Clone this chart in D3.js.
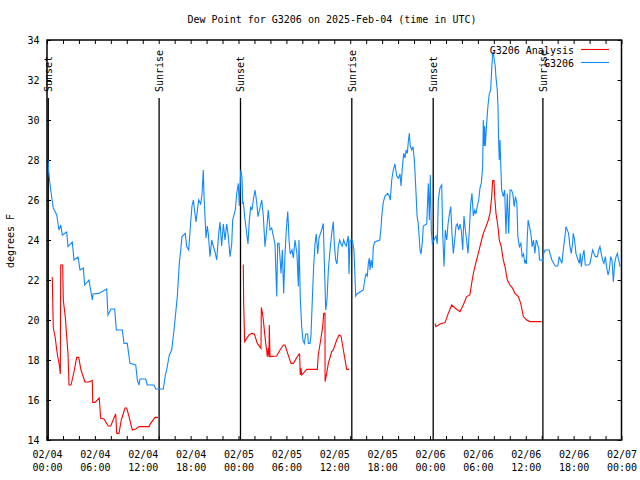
<!DOCTYPE html>
<html>
<head>
<meta charset="utf-8">
<script src="https://cdn.jsdelivr.net/npm/d3@7"></script>
<style>
  html, body { margin: 0; padding: 0; background: #fff; }
  svg { display: block; font-family: "DejaVu Sans Mono", "Liberation Mono", monospace; }
</style>
</head>
<body>
<svg id="chart" width="640" height="480"></svg>
<script>
// ---------------- data ----------------
const titleText = "Dew Point for G3206 on 2025-Feb-04 (time in UTC)";
const yLabel = "degrees F";
const startUTC = Date.UTC(2025, 1, 4, 0, 0);
const spanHours = 72;
const yTicks = [14, 16, 18, 20, 22, 24, 26, 28, 30, 32, 34];
const seriesNames = ["G3206 Analysis", "G3206"];
const seriesColors = ["#ff0000", "#1188ff"];

// G3206 observations: hours since 02/04 00:00 UTC and dew point (F)
const obsHours = [0.13,0.19,0.46,0.79,1.22,1.50,1.72,1.92,2.47,2.63,3.17,3.38,3.89,4.14,4.55,4.72,5.26,5.68,5.77,6.52,7.48,7.64,8.02,8.48,8.69,9.44,9.65,10.06,10.40,11.12,11.32,11.53,11.65,12.37,12.57,13.41,13.62,14.58,14.83,15.00,15.33,15.63,15.92,16.33,16.58,16.76,16.92,17.33,17.51,17.76,18.01,18.17,18.34,18.67,19.01,19.26,19.43,19.59,19.68,19.93,20.09,20.22,20.43,20.64,20.84,21.06,21.27,21.52,21.68,21.89,22.10,22.31,22.52,22.72,22.94,23.15,23.27,23.60,23.77,23.98,24.10,24.28,24.44,24.53,24.60,24.82,25.03,25.19,25.36,25.53,25.69,25.86,26.07,26.28,26.44,26.69,26.91,27.11,27.32,27.53,27.73,27.95,28.16,28.36,28.57,28.79,28.91,29.08,29.33,29.50,29.66,29.83,29.99,30.17,30.24,30.33,30.49,30.71,30.87,31.08,31.33,31.50,31.58,31.75,31.92,32.08,32.25,32.42,32.67,32.75,32.96,33.08,33.25,33.42,33.59,33.75,33.93,34.09,34.25,34.42,34.63,34.75,34.93,35.09,35.26,35.47,35.68,35.88,36.01,36.18,36.34,36.51,36.68,36.85,37.01,37.18,37.35,37.51,37.69,37.76,37.85,37.98,38.26,38.47,38.69,38.85,39.23,39.64,39.82,39.98,40.14,40.27,40.39,40.48,40.61,40.77,40.90,41.07,41.70,41.86,41.95,42.15,42.36,42.70,42.90,43.03,43.20,43.40,43.61,43.83,44.03,44.24,44.37,44.53,44.70,44.87,45.00,45.16,45.28,45.41,45.53,45.71,45.87,46.04,46.21,46.38,46.50,46.62,46.75,46.87,47.04,47.16,47.59,47.79,47.92,48.04,48.16,48.29,48.50,48.75,48.91,49.04,49.25,49.47,49.59,49.76,49.92,50.10,50.26,50.43,50.60,50.76,50.92,51.10,51.26,51.42,51.60,51.76,51.92,52.10,52.26,52.43,52.59,52.76,52.93,53.10,53.26,53.43,53.60,53.76,53.93,54.10,54.26,54.43,54.60,54.68,54.77,54.85,54.93,55.10,55.26,55.43,55.60,55.73,55.85,55.93,56.05,56.18,56.26,56.43,56.52,56.60,56.68,56.77,56.85,56.98,57.18,57.36,57.52,57.69,57.86,58.03,58.20,58.37,58.55,58.71,58.89,59.01,59.21,59.39,59.55,59.72,59.89,59.96,60.09,60.18,60.30,60.47,60.64,60.80,60.97,61.14,61.31,61.47,61.65,61.72,62.02,62.09,62.22,62.43,62.93,63.09,63.27,63.52,63.69,64.02,64.19,64.35,64.53,64.70,64.86,65.04,65.20,65.37,65.54,65.70,65.87,65.95,66.12,66.29,66.55,66.71,66.84,66.96,67.13,67.30,67.46,67.88,68.05,68.22,68.38,68.55,68.72,68.97,69.14,69.30,69.46,69.63,69.80,69.97,70.13,70.31,70.47,70.64,70.81,70.98,71.14,71.32,71.48,71.65,71.82];
const obsValues = [28.0,27.5,26.5,25.6,25.25,24.5,24.75,24.25,24.4,23.67,23.9,23.0,23.15,22.5,22.6,21.75,22.0,21.0,21.3,21.33,21.55,20.25,20.55,20.55,19.5,19.5,18.83,18.83,17.83,17.75,17.0,16.75,17.05,17.05,16.75,16.75,16.55,16.55,17.25,17.5,18.25,18.5,19.5,21.17,22.83,23.5,24.17,24.33,23.67,23.5,24.9,25.7,26.0,24.9,26.0,25.8,26.3,27.5,26.17,24.1,24.7,24.3,23.17,24.0,23.7,23.4,23.0,24.33,24.9,23.7,24.8,24.0,24.8,24.2,23.17,23.8,25.0,25.5,26.3,26.83,25.7,27.5,27.1,25.8,25.9,25.0,24.33,23.8,25.0,25.67,25.5,26.0,26.5,25.9,25.17,25.6,26.0,25.2,23.67,24.5,25.5,24.5,24.6,24.2,23.8,21.17,23.83,23.83,22.33,23.5,21.33,23.3,24.5,25.42,24.9,24.0,23.3,23.5,23.1,24.0,23.3,21.67,24.0,21.0,19.67,19.0,18.83,19.3,19.3,18.83,18.83,19.2,21.0,22.7,23.8,24.3,23.3,24.1,24.3,24.5,24.83,23.0,20.5,21.0,22.5,23.5,24.3,24.92,23.8,23.0,22.8,23.7,24.0,23.8,23.7,24.0,23.8,23.7,24.1,24.2,22.3,24.0,24.0,23.5,21.2,21.3,21.4,21.5,22.0,22.3,22.2,22.83,23.1,22.5,23.0,22.6,23.67,23.9,24.0,24.6,25.17,25.9,26.2,26.33,26.2,26.0,27.0,27.5,27.8,27.2,27.08,27.3,26.7,27.6,28.33,28.1,28.5,28.33,28.9,29.33,28.7,28.5,28.67,28.0,26.67,25.2,24.9,24.3,23.5,23.3,23.9,24.7,24.8,26.83,25.0,27.25,24.5,23.83,24.0,24.2,23.8,26.0,26.6,26.75,24.33,22.67,24.5,24.0,24.8,25.3,25.67,24.3,23.33,24.0,24.7,24.8,24.5,24.8,24.5,23.5,25.2,24.5,24.0,23.33,24.5,25.8,26.33,25.2,25.5,25.3,25.7,26.0,26.58,26.83,27.67,30.0,28.7,29.7,28.7,29.83,30.7,31.3,31.5,32.5,33.33,33.42,33.0,32.7,32.17,31.5,30.67,29.0,28.0,29.0,28.0,26.5,26.17,26.5,24.3,26.33,24.33,26.5,26.5,26.33,25.67,26.17,25.83,24.17,23.67,23.83,23.17,23.3,22.83,23.0,22.8,24.0,25.0,24.67,24.33,23.67,24.0,23.33,24.0,23.83,23.5,23.0,23.0,22.92,23.3,23.5,23.5,23.25,23.0,22.83,22.7,22.7,23.17,23.0,22.83,23.5,24.0,24.67,24.5,24.33,23.67,23.33,23.83,24.33,24.0,23.33,23.0,22.83,23.33,22.67,23.17,23.5,22.75,22.75,22.83,23.17,23.5,23.33,23.17,23.17,23.5,23.67,23.33,23.0,22.83,23.17,22.67,22.25,22.5,23.17,23.0,21.92,22.83,23.17,23.33,23.0,22.67];

// G3206 Analysis: hours and values (null = gap)
const anaHours = [0.66,0.79,1.00,1.29,1.54,1.67,1.72,1.97,2.04,2.29,2.47,2.63,2.76,3.01,3.38,3.72,3.97,4.26,4.76,5.18,5.68,5.73,6.02,6.55,6.73,7.14,7.68,7.98,8.61,8.74,9.02,9.31,9.78,9.99,10.28,10.69,11.12,11.53,12.78,12.99,13.54,13.91,
  18.0,
  24.60,24.65,24.77,25.03,25.32,25.65,25.98,26.36,26.82,26.86,26.98,27.11,27.41,27.53,27.61,27.73,27.82,27.86,27.95,28.79,29.20,29.62,29.83,30.16,30.58,30.87,31.58,31.66,31.74,31.83,31.92,32.55,33.88,34.00,34.30,34.55,34.68,34.84,34.85,35.05,35.26,35.68,35.88,36.31,36.60,36.85,37.14,37.56,37.85,
  42.0,
  48.63,48.75,49.25,49.88,50.29,50.72,51.13,51.76,52.17,52.59,53.00,53.22,53.42,53.63,53.84,54.05,54.26,54.47,54.68,55.02,55.31,55.52,55.73,55.85,56.02,56.11,56.27,56.52,56.68,56.93,57.18,57.40,57.69,58.02,58.36,58.65,59.07,59.37,59.70,60.12,60.53,60.91,62.00];
const anaValues = [22.15,19.6,19.2,18.3,17.75,17.3,22.75,22.75,21.0,20.17,19.17,18.33,16.75,16.75,17.4,18.13,18.13,17.5,16.9,16.9,16.97,15.88,15.88,16.1,15.08,15.05,14.7,14.7,15.3,14.33,14.33,15.0,15.6,15.6,15.17,14.5,14.55,14.67,14.67,14.83,15.13,15.13,
  null,
  22.78,20.83,18.92,19.08,19.25,19.33,19.3,18.83,18.58,20.63,20.4,20.0,18.83,18.5,18.17,18.6,18.17,19.75,18.17,18.2,18.5,18.75,18.75,18.33,17.83,17.83,18.3,18.3,17.25,17.6,17.25,17.53,17.53,18.25,19.0,19.67,20.33,20.33,16.92,17.33,17.83,18.42,18.5,19.0,19.25,19.2,18.5,17.53,17.53,
  null,
  19.83,19.67,19.8,19.87,20.33,20.75,20.6,20.42,20.75,21.17,21.25,21.83,22.3,22.67,23.0,23.33,23.67,24.0,24.33,24.67,25.0,25.33,26.17,26.97,26.97,26.17,25.33,24.67,24.0,23.67,23.0,22.67,22.0,21.75,21.58,21.33,21.17,20.83,20.17,20.0,19.92,19.92,19.92];

// Sun events (hours since start)
const sunHours = [0.16, 14.05, 24.25, 38.2, 48.4, 62.15];
const sunLabels = ["Sunset", "Sunrise", "Sunset", "Sunrise", "Sunset", "Sunrise"];

// ---------------- chart ----------------
const toDate = h => new Date(startUTC + h * 3600000);
const margin = {left: 47, right: 18.5, top: 40, bottom: 40};
const W = 640 - margin.left - margin.right;
const H = 480 - margin.top - margin.bottom;

const svg = d3.select("#chart");
svg.append("rect").attr("width", 640).attr("height", 480).attr("fill", "#fff");

const g = svg.append("g").attr("transform", `translate(${margin.left},${margin.top})`);

const x = d3.scaleUtc().domain([toDate(0), toDate(spanHours)]).range([0, W]);
const y = d3.scaleLinear().domain([14, 34]).range([H, 0]);

const fs = 10;

// axes
const fmtD = d3.utcFormat("%m/%d"), fmtT = d3.utcFormat("%H:%M");
const xb = g.append("g").attr("transform", `translate(0,${H})`)
  .call(d3.axisBottom(x).ticks(d3.utcHour.every(2)).tickSizeInner(-4).tickSizeOuter(0).tickFormat(() => ""));
xb.selectAll(".tick text").each(function(d) {
  const t = d3.select(this).text(null).attr("dy", null).attr("y", 0);
  if (d.getUTCHours() % 6 !== 0) return;
  t.append("tspan").attr("x", 0).attr("y", 18).text(fmtD(d));
  t.append("tspan").attr("x", 0).attr("y", 31).text(fmtT(d));
});
const xt = g.append("g")
  .call(d3.axisTop(x).ticks(d3.utcHour.every(2)).tickSizeInner(-4).tickSizeOuter(0).tickFormat(() => ""));
const yl = g.append("g")
  .call(d3.axisLeft(y).tickValues(yTicks).tickSizeInner(-4).tickSizeOuter(0).tickPadding(7.5).tickFormat(d3.format("d")));
const yr = g.append("g").attr("transform", `translate(${W},0)`)
  .call(d3.axisRight(y).tickValues(yTicks).tickSizeInner(-4).tickSizeOuter(0).tickFormat(() => ""));
[xb, xt, yl, yr].forEach(a => {
  a.select(".domain").remove();
  a.selectAll("line").attr("stroke", "#000").attr("stroke-width", 1);
  a.selectAll("text").attr("font-size", fs).attr("font-family", "DejaVu Sans Mono, monospace").attr("fill", "#000");
});

// sunrise / sunset lines
const sun = g.append("g");
sunHours.forEach((h, i) => {
  const sx = x(toDate(h));
  sun.append("line").attr("x1", sx).attr("x2", sx).attr("y1", 58).attr("y2", H)
    .attr("stroke", "#000").attr("stroke-width", 1.3);
  sun.append("text").attr("transform", `translate(${sx + 4},52) rotate(-90)`)
    .attr("font-size", fs).attr("text-anchor", "start").attr("fill", "#000").text(sunLabels[i]);
});

// data lines
const obs = obsHours.map((h, i) => ({t: toDate(h), v: obsValues[i]}));
const ana = anaHours.map((h, i) => ({t: toDate(h), v: anaValues[i]}));
const line = d3.line().defined(d => d.v != null).x(d => x(d.t)).y(d => y(d.v));

g.append("path").datum(ana).attr("d", line).attr("fill", "none")
  .attr("stroke", seriesColors[0]).attr("stroke-width", 1.1).attr("stroke-linejoin", "miter");
g.append("path").datum(obs).attr("d", line).attr("fill", "none")
  .attr("stroke", seriesColors[1]).attr("stroke-width", 1.1).attr("stroke-linejoin", "miter");

// border
g.append("rect").attr("width", W).attr("height", H).attr("fill", "none")
  .attr("stroke", "#000").attr("stroke-width", 1.5);

// legend
const leg = svg.append("g");
seriesNames.forEach((n, i) => {
  const ly = 49.5 + i * 13;
  leg.append("text").attr("x", 574).attr("y", ly + 4.5).attr("text-anchor", "end")
    .attr("font-size", fs).attr("fill", "#000").text(n);
  leg.append("line").attr("x1", 581).attr("x2", 609).attr("y1", ly).attr("y2", ly)
    .attr("stroke", seriesColors[i]).attr("stroke-width", 1.1);
});

// title and y label
svg.append("text").attr("x", 332).attr("y", 23).attr("text-anchor", "middle")
  .attr("font-size", fs).attr("fill", "#000").text(titleText);
svg.append("text").attr("transform", "translate(14,241) rotate(-90)").attr("text-anchor", "middle")
  .attr("font-size", fs).attr("fill", "#000").text(yLabel);
</script>
</body>
</html>
